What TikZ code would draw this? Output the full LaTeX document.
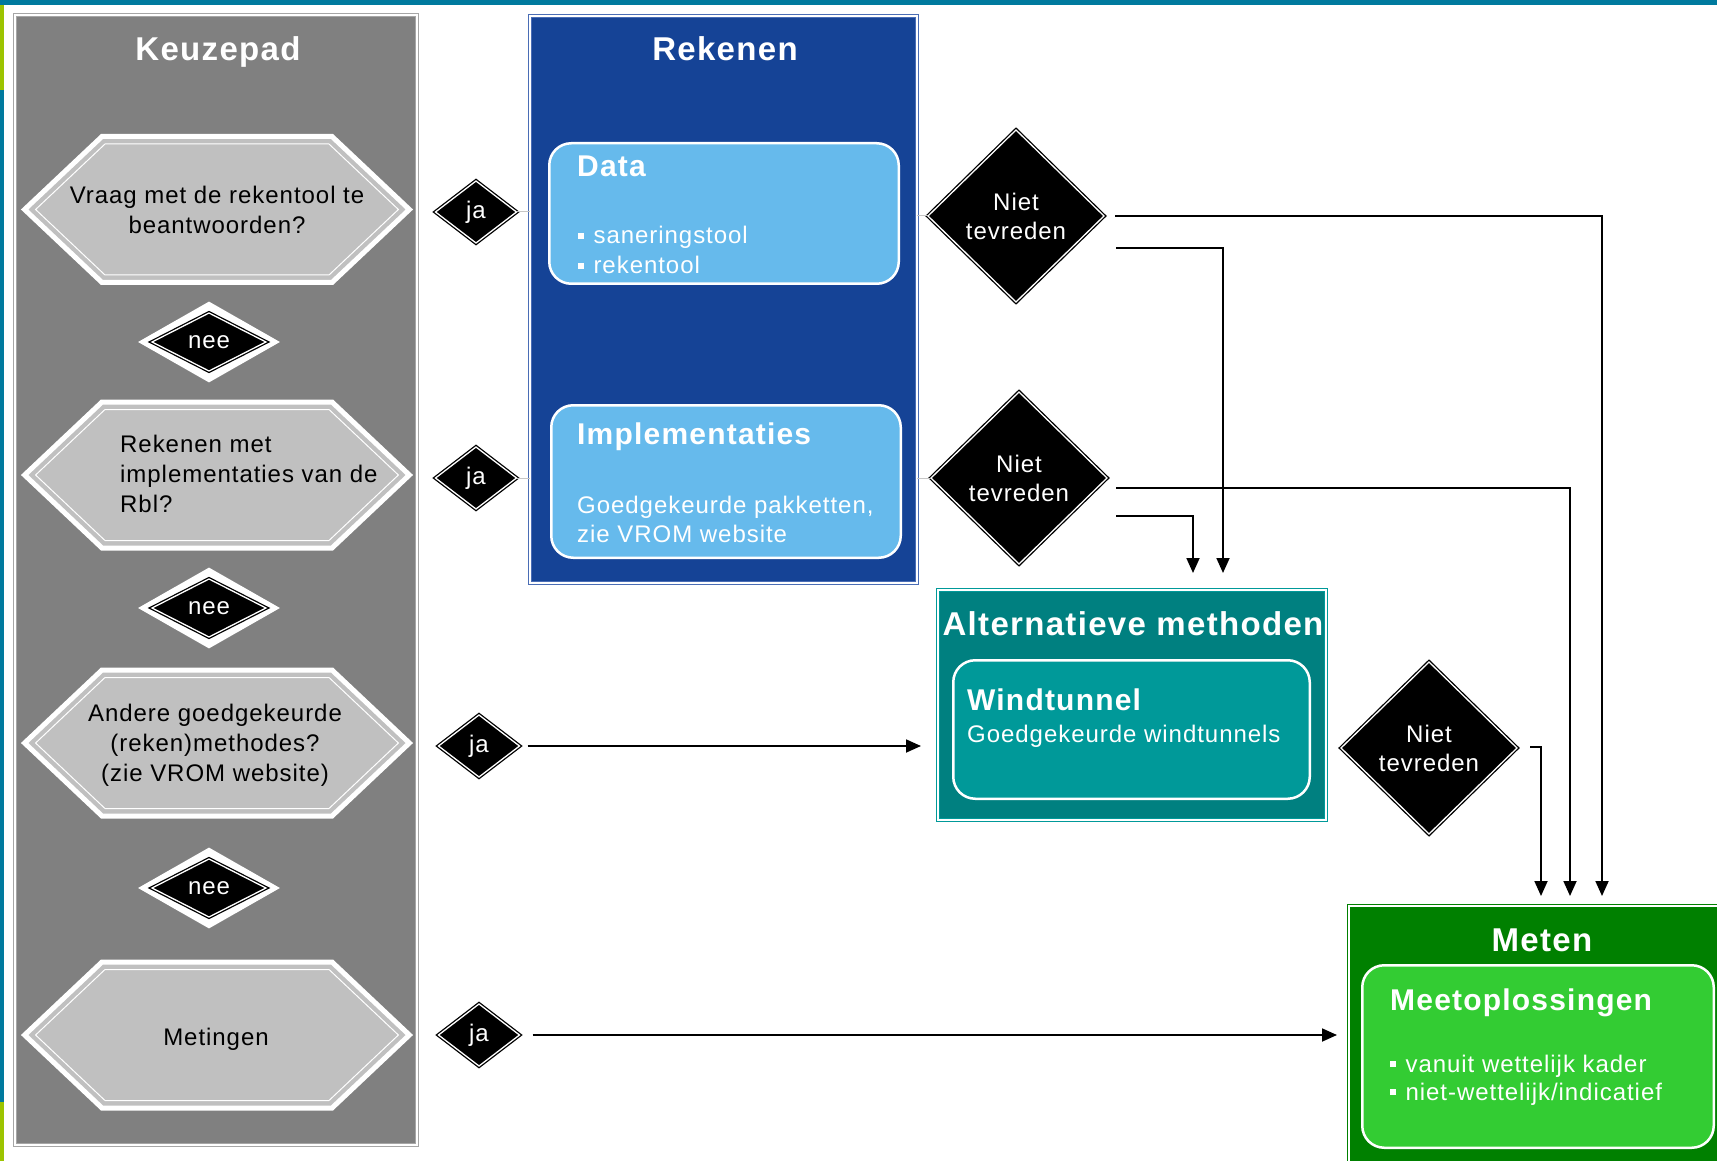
\documentclass[tikz,border=0pt]{standalone}
\usepackage{fontspec}
\setmainfont[LetterSpace=4]{Liberation Sans}
\usetikzlibrary{shapes.geometric,arrows.meta}
\definecolor{keugray}{HTML}{808080}
\definecolor{keuline}{HTML}{A6A6A6}
\definecolor{hexgray}{HTML}{C0C0C0}
\definecolor{rekblue}{HTML}{154396}
\definecolor{rekline}{HTML}{4A6DB5}
\definecolor{datablue}{HTML}{66BAEC}
\definecolor{altteal}{HTML}{008080}
\definecolor{windteal}{HTML}{009999}
\definecolor{metgreen}{HTML}{008000}
\definecolor{meetgreen}{HTML}{33CC33}
\definecolor{stripteal}{HTML}{007A9E}
\definecolor{limebar}{HTML}{9CC400}
\newcommand\sqbul{\rule[0.2em]{0.24em}{0.24em}\hspace{0.4em}}
\newcommand\drawhex[2]{%
  \path[hexouter] (#1-192.4,#2) -- (#1-115,#2-73) -- (#1+115,#2-73) -- (#1+192.4,#2) -- (#1+115,#2+73) -- (#1-115,#2+73) -- cycle;
  \path[hexinner] (#1-181.4,#2) -- (#1-112,#2-65.5) -- (#1+112,#2-65.5) -- (#1+181.4,#2) -- (#1+112,#2+65.5) -- (#1-112,#2+65.5) -- cycle;
}
\tikzset{
  panel/.style={rectangle, line width=1pt, double=white, double distance=2pt, inner sep=0pt, outer sep=0pt},
  rbox/.style={rectangle, rounded corners=22pt, draw=white, line width=2.5pt, inner sep=0pt, outer sep=0pt},
  hexouter/.style={fill=hexgray, draw=white, line width=5pt},
  hexinner/.style={draw=white, line width=1pt},
  dia/.style={diamond, fill=black, draw=black, double=white, line width=1.3pt, double distance=1.3pt, inner sep=0pt, outer sep=0pt, text=white, align=center},
  ja/.style={dia, minimum width=81pt, minimum height=62pt, font=\fontsize{24}{28}\selectfont},
  nee/.style={dia, minimum width=114pt, minimum height=58pt, font=\fontsize{24}{28}\selectfont},
  neeback/.style={diamond, fill=white, minimum width=142pt, minimum height=81pt, inner sep=0pt},
  niet/.style={dia, minimum width=176pt, minimum height=172pt, font=\fontsize{24}{29}\selectfont},
  titletext/.style={text=white, inner sep=0pt, anchor=base, font=\bfseries\fontsize{33}{40}\selectfont},
  boxhead/.style={text=white, inner sep=0pt, anchor=base west, font=\bfseries\fontsize{30}{36}\selectfont},
  boxbody/.style={text=white, inner sep=0pt, anchor=base west, font=\fontsize{24}{29}\selectfont},
  hextext/.style={text=black, inner sep=0pt, font=\fontsize{24}{30}\selectfont},
  link/.style={draw=gray!45, line width=1pt},
  arr/.style={-{Triangle[length=15pt,width=13pt]}, line width=1.8pt, draw=black},
}
\begin{document}
\begin{tikzpicture}[x=1pt,y=-1pt]
\path[use as bounding box, clip] (0,0) rectangle (1717,1161);
\fill[white] (0,0) rectangle (1717,1161);
\fill[stripteal] (0,0) rectangle (1717,5);
\fill[limebar] (0,5) rectangle (4,90);
\fill[stripteal] (0,90) rectangle (4,1102);
\fill[limebar] (0,1102) rectangle (4,1161);

% panels
\node[panel, fill=keugray, draw=keuline, minimum width=402pt, minimum height=1130pt] (keu) at (216,580) {};
\node[panel, fill=rekblue, draw=rekline, minimum width=387pt, minimum height=567pt] (rek) at (723.5,299.5) {};
\node[panel, fill=altteal, draw=windteal, minimum width=388pt, minimum height=230pt] (alt) at (1132,705) {};
\node[panel, fill=metgreen, draw=metgreen, minimum width=389pt, minimum height=272pt] (met) at (1543.5,1042) {};

% rounded boxes
\node[rbox, fill=datablue, minimum width=349.5pt, minimum height=140.5pt] (data) at (724,213.5) {};
\node[rbox, fill=datablue, minimum width=349.5pt, minimum height=152.5pt] (impl) at (726,481.5) {};
\node[rbox, fill=windteal, minimum width=356.5pt, minimum height=138.5pt] (wind) at (1131.5,729.5) {};
\node[rbox, fill=meetgreen, minimum width=351.5pt, minimum height=182.5pt] (meet) at (1538,1056.5) {};

% titles
\node[titletext] (tkeu) at (218,61) {Keuzepad};
\node[titletext] (trek) at (725,61) {Rekenen};
\node[titletext] (talt) at (1133,635) {Alternatieve methoden};
\node[titletext] (tmet) at (1542,951) {Meten};

% box texts
\node[boxhead] (tdata) at (577,177) {Data};
\node[boxbody] (tdata1) at (578,244) {\sqbul saneringstool};
\node[boxbody] (tdata2) at (578,274) {\sqbul rekentool};
\node[boxhead] (timpl) at (577,444) {Implementaties};
\node[boxbody] (timpl1) at (577,513) {Goedgekeurde pakketten,};
\node[boxbody] (timpl2) at (577,542) {zie VROM website};
\node[boxhead] (twind) at (967,710) {Windtunnel};
\node[boxbody] (twind1) at (967,742) {Goedgekeurde windtunnels};
\node[boxhead] (tmeet) at (1390,1010) {Meetoplossingen};
\node[boxbody] (tmeet1) at (1390,1072) {\sqbul vanuit wettelijk kader};
\node[boxbody] (tmeet2) at (1390,1100) {\sqbul niet-wettelijk/indicatief};

% hexagons
\drawhex{217}{209.5}
\drawhex{217}{475}
\drawhex{217}{743}
\drawhex{217}{1035}
\node[hextext, align=center] (h1) at (217,210) {Vraag met de rekentool te\\beantwoorden?};
\node[hextext, align=left, anchor=west] (h2) at (120,474) {Rekenen met\\implementaties van de\\Rbl?};
\node[hextext, align=center] (h3) at (215,745.5) {Andere goedgekeurde\\(reken)methodes?\\(zie VROM website)};
\node[hextext, anchor=base] (h4) at (216,1045) {Metingen};

% nee diamonds
\node[neeback] (nb1) at (209,342) {};
\node[nee] (nee1) at (209,342) {nee};
\node[neeback] (nb2) at (209,608) {};
\node[nee] (nee2) at (209,608) {nee};
\node[neeback] (nb3) at (209,888) {};
\node[nee] (nee3) at (209,888) {nee};

% ja diamonds
\node[ja] (ja1) at (476,212) {ja};
\node[ja] (ja2) at (476,478) {ja};
\node[ja] (ja3) at (479,746) {ja};
\node[ja] (ja4) at (479,1035) {ja};

% niet tevreden diamonds
\node[niet] (n1) at (1016,216) {Niet\\tevreden};
\node[niet] (n2) at (1019,478) {Niet\\tevreden};
\node[niet] (n3) at (1429,748) {Niet\\tevreden};

% short links
\draw[link] (ja1.east) -- (ja1.east -| rek.west);
\draw[link] (ja2.east) -- (ja2.east -| rek.west);
\draw[link] (rek.east |- n1.west) -- (n1.west);
\draw[link] (rek.east |- n2.west) -- (n2.west);

% arrows
\coordinate (s1) at (1115,216); \coordinate (e1) at (1602,896);
\coordinate (s2) at (1116,248); \coordinate (e2) at (1223,573);
\coordinate (s3) at (1116,488); \coordinate (e3) at (1570,896);
\coordinate (s4) at (1116,516); \coordinate (e4) at (1193,573);
\coordinate (s5) at (1530,747); \coordinate (e5) at (1541,896);
\draw[arr] (s1) -| (e1);
\draw[arr] (s2) -| (e2);
\draw[arr] (s3) -| (e3);
\draw[arr] (s4) -| (e4);
\draw[arr] (s5) -| (e5);
\draw[arr] ([xshift=8pt]ja3.east) -- ([xshift=-17pt]ja3.east -| alt.west);
\draw[arr] ([xshift=13pt]ja4.east) -- ([xshift=-12pt]ja4.east -| met.west);
\end{tikzpicture}
\end{document}
